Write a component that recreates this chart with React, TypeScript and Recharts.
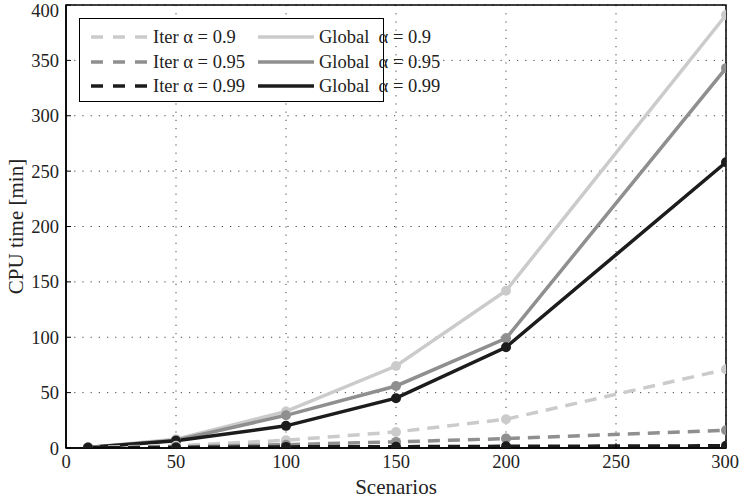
import {
  LineChart,
  Line,
  XAxis,
  YAxis,
  CartesianGrid,
  ReferenceArea,
} from 'recharts';

const scenarios = [10, 50, 100, 150, 200, 300];

const iter90 = [0.5, 2, 7, 14.5, 26, 71];
const iter95 = [0.3, 1, 3, 5.5, 8.5, 16];
const iter99 = [0.2, 0.5, 1, 1.2, 1.5, 2];
const global90 = [0.5, 8, 33, 74, 142, 391];
const global95 = [0.5, 7, 29.5, 56, 99, 343];
const global99 = [0.5, 6.5, 20, 45, 91, 258];

const xTicks = [0, 50, 100, 150, 200, 250, 300];
const yTicks = [0, 50, 100, 150, 200, 250, 300, 350, 400];

const LIGHT = '#cbcbcb';
const MID = '#8f8f8f';
const DARK = '#1c1c1c';
const FONT = '"Liberation Serif", "DejaVu Serif", serif';
const FS = 18.5;
const LABEL_FS = 21;

const series = [
  { key: 'global90', name: 'Global  α = 0.9', color: LIGHT, dashed: false },
  { key: 'global95', name: 'Global  α = 0.95', color: MID, dashed: false },
  { key: 'global99', name: 'Global  α = 0.99', color: DARK, dashed: false },
  { key: 'iter90', name: 'Iter α = 0.9', color: LIGHT, dashed: true },
  { key: 'iter95', name: 'Iter α = 0.95', color: MID, dashed: true },
  { key: 'iter99', name: 'Iter α = 0.99', color: DARK, dashed: true },
];

const data = scenarios.map((x, i) => ({
  x,
  iter90: iter90[i],
  iter95: iter95[i],
  iter99: iter99[i],
  global90: global90[i],
  global95: global95[i],
  global99: global99[i],
}));

// legend drawn as an overlay so it doesn't eat plot space
function LegendBox() {
  const rows = [
    [series[3], series[0]],
    [series[4], series[1]],
    [series[5], series[2]],
  ];
  const sample = (color: string, dashed: boolean) => (
    <svg width={56} height={10} style={{ display: 'block' }}>
      <line
        x1={0}
        y1={5}
        x2={56}
        y2={5}
        stroke={color}
        strokeWidth={3.5}
        strokeDasharray={dashed ? '12 10' : undefined}
      />
    </svg>
  );
  return (
    <div
      style={{
        position: 'absolute',
        left: 79,
        top: 18,
        width: 303,
        height: 82,
        border: '1px solid #000',
        background: '#fff',
        fontFamily: FONT,
        fontSize: FS,
        color: '#222',
      }}
    >
      {rows.map((r, i) => (
        <div key={i} style={{ position: 'absolute', top: 6 + i * 24.5, left: 0, height: 24, width: 303 }}>
          <div style={{ position: 'absolute', left: 11, top: 7 }}>{sample(r[0].color, true)}</div>
          <div style={{ position: 'absolute', left: 73, top: 0, lineHeight: '24px', whiteSpace: 'nowrap' }}>{r[0].name}</div>
          <div style={{ position: 'absolute', left: 178, top: 7 }}>{sample(r[1].color, false)}</div>
          <div style={{ position: 'absolute', left: 239, top: 0, lineHeight: '24px', whiteSpace: 'pre' }}>{r[1].name}</div>
        </div>
      ))}
    </div>
  );
}

export default function App() {
  return (
    <div style={{ position: 'absolute', left: 0, top: 0, width: 739, height: 499, background: '#fff' }}>
      <LineChart
        width={739}
        height={499}
        data={data}
        margin={{ top: 5, right: 13, bottom: 0, left: 0 }}
      >
        <CartesianGrid
          stroke="#444"
          strokeDasharray="1.2 7"
          horizontalValues={yTicks}
          verticalValues={xTicks}
        />
        <XAxis
          dataKey="x"
          type="number"
          domain={[0, 300]}
          ticks={xTicks}
          allowDataOverflow
          axisLine={{ stroke: '#000', strokeWidth: 1.5 }}
          tickLine={{ stroke: '#000' }}
          tickSize={-5}
          tickMargin={12}
          height={51}
          tick={{ fill: '#222', fontFamily: FONT, fontSize: FS }}
          label={{
            value: 'Scenarios',
            position: 'insideBottom',
            offset: 5,
            fill: '#222',
            fontFamily: FONT,
            fontSize: LABEL_FS,
          }}
        />
        {/* top & right axes only for the inward tick marks */}
        <XAxis
          xAxisId="top"
          orientation="top"
          dataKey="x"
          type="number"
          domain={[0, 300]}
          ticks={xTicks}
          allowDataOverflow
          height={0}
          axisLine={false}
          tickLine={{ stroke: '#000' }}
          tickSize={-5}
          tickFormatter={() => ''}
        />
        <YAxis
          type="number"
          domain={[0, 400]}
          ticks={yTicks}
          allowDataOverflow
          width={66}
          axisLine={{ stroke: '#000', strokeWidth: 1.5 }}
          tickLine={{ stroke: '#000' }}
          tickSize={-5}
          tickMargin={12}
          tick={{ fill: '#222', fontFamily: FONT, fontSize: FS }}
          label={{
            value: 'CPU time [min]',
            angle: -90,
            position: 'insideLeft',
            offset: 16,
            style: { textAnchor: 'middle' },
            fill: '#222',
            fontFamily: FONT,
            fontSize: LABEL_FS,
          }}
        />
        <YAxis
          yAxisId="right"
          orientation="right"
          type="number"
          domain={[0, 400]}
          ticks={yTicks}
          allowDataOverflow
          width={0}
          axisLine={false}
          tickLine={{ stroke: '#000' }}
          tickSize={-5}
          tickFormatter={() => ''}
        />
        <ReferenceArea
          x1={0}
          x2={300}
          y1={0}
          y2={400}
          fill="none"
          stroke="#000"
          strokeWidth={1.5}
          ifOverflow="visible"
        />
        {series.map((s) => (
          <Line
            key={s.key}
            dataKey={s.key}
            name={s.name}
            type="linear"
            stroke={s.color}
            strokeWidth={3.5}
            strokeDasharray={s.dashed ? '12 8' : undefined}
            dot={{ r: 5, fill: s.color, stroke: s.color, strokeWidth: 0 }}
            isAnimationActive={false}
          />
        ))}
      </LineChart>
      <LegendBox />
    </div>
  );
}
